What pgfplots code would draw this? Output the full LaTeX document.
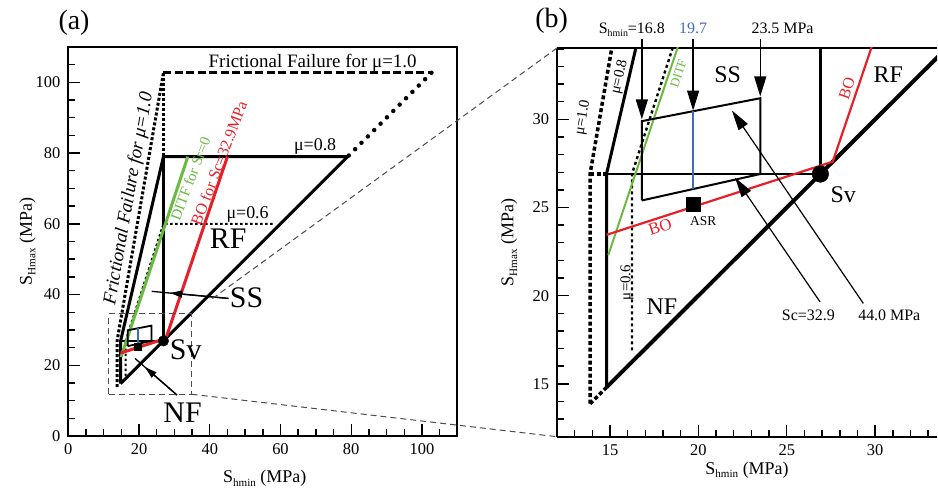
\documentclass[border=0pt]{standalone}
\usepackage{fontspec}
\setmainfont{Liberation Serif}
\usepackage{pgfplots}
\pgfplotsset{compat=1.18}
\usetikzlibrary{arrows.meta,calc}

\definecolor{bored}{RGB}{230,32,40}
\definecolor{ditfgreen}{RGB}{106,186,66}
\definecolor{asrblue}{RGB}{62,110,182}

\newcommand{\sub}[1]{\raisebox{-0.45ex}{\scalebox{0.62}{#1}}}
\newcommand{\fs}[1]{\fontsize{#1}{#1}\selectfont}

\tikzset{
  mu10sq/.style={line width=3bp, dash pattern=on 3bp off 2bp},
  mu10dash/.style={line width=3bp, dash pattern=on 8bp off 3.5bp},
  mu10dot/.style={line width=4.5bp, dash pattern=on 0bp off 9bp, line cap=round},
  mu06/.style={line width=2bp, dash pattern=on 2.5bp off 2.5bp},
  mu10b/.style={line width=3.5bp, dash pattern=on 4bp off 2.5bp},
  mu06b/.style={line width=2.4bp, dash pattern=on 3bp off 3bp},
  conn/.style={line width=1bp, black!70, dash pattern=on 6bp off 4bp},
}

\pgfplotsset{
  common/.style={
    scale only axis,
    anchor=south west,
    axis line style={line width=1.8bp},
    tick style={line width=1.4bp, black},
    major tick length=12bp,
    minor tick length=7bp,
    tick align=inside,
    tick pos=left,
    clip mode=individual,
    /pgf/number format/assume math mode=true,
    tick label style={font=\fs{16.5}},
    xticklabel style={yshift=-4bp},
    yticklabel style={xshift=-4.5bp},
    label style={font=\fs{18}},
  },
}

\begin{document}
\begin{tikzpicture}[x=1bp,y=1bp]
\path (0,0) rectangle (938,491);

% ---------------- panel (a) ----------------
\begin{axis}[common,
  at={(68.3bp,55bp)}, width=389bp, height=389bp,
  xmin=0, xmax=110, ymin=0, ymax=110,
  xtick={0,20,...,100}, ytick={0,20,...,100},
  minor xtick={0,5,...,110}, minor ytick={0,5,...,110},
  xlabel={S\sub{hmin} (MPa)}, ylabel={S\sub{Hmax} (MPa)},
  xlabel style={at={(axis description cs:0.505,-0.108)}, anchor=center},
  ylabel style={at={(axis description cs:-0.105,0.5)}, anchor=center},
]
% mu = 1.0
\addplot[mu10sq] coordinates {(13.8,13.8) (13.8,26.9) (26.9,102.7)};
\addplot[mu10sq] coordinates {(26.9,26.9) (26.9,102.7)};
\addplot[mu10dash] coordinates {(26.9,102.7) (102.7,102.7)};
\addplot[mu10dot] coordinates {(102.7,102.7) (79,79)};
% mu = 0.6
\addplot[mu06] coordinates {(16.2,16.9) (16.2,26.9) (26.9,60) (58,60)};
% mu = 0.8
\addplot[line width=3bp] coordinates {(14.8,14.8) (14.8,26.9) (26.9,79) (79,79) (14.8,14.8)};
\addplot[line width=3bp] coordinates {(26.9,26.9) (26.9,79)};
\addplot[line width=2.5bp] coordinates {(14.8,26.9) (26.9,26.9)};
% DITF and BO
\addplot[ditfgreen, line width=3bp] coordinates {(14.9,22.3) (33.8,79)};
\addplot[bored, line width=3bp] coordinates {(14.8,23.45) (27.6,27.6) (45,79)};
% SS region
\addplot[black, line width=1.8bp] coordinates {(16.8,25.4) (16.8,29.9) (23.5,31.2) (23.5,26.9) (16.8,25.4)};
\addplot[asrblue, line width=1.5bp] coordinates {(19.7,26.05) (19.7,30.46)};
\addplot[only marks, mark=square*, mark size=3.3bp, black] coordinates {(19.7,25.2)};
\addplot[only marks, mark=*, mark size=5.3bp, black] coordinates {(26.9,26.9)};
% zoom box
\addplot[conn] coordinates {(11.5,11.8) (34.9,11.8) (34.9,34.6) (11.5,34.6) (11.5,11.8)};

\coordinate (aTR) at (axis cs:34.9,34.6);
\coordinate (aBR) at (axis cs:34.9,11.8);

\node[font=\fs{19}, anchor=base] at (axis cs:69.1,104.2) {Frictional Failure for μ=1.0};
\node[font=\fs{19}\itshape, rotate=80] at (axis cs:17.2,67.2) {Frictional Failure for μ=1.0};
\node[font=\fs{18}, anchor=base] at (axis cs:69.8,80.7) {μ=0.8};
\node[font=\fs{18}, anchor=base] at (axis cs:50.7,61.4) {μ=0.6};
\node[font=\fs{15}, text=ditfgreen, rotate=69, inner sep=0.5pt] at (axis cs:34.5,72.8) {DITF for Sr=0};
\node[font=\fs{16}, text=bored, rotate=69, inner sep=0.5pt] at (axis cs:42.6,77.2) {BO for Sc=32.9MPa};
\node[font=\fs{30}, anchor=base] at (axis cs:45.2,53.0) {RF};
\node[font=\fs{30}, anchor=base] at (axis cs:50.4,36.3) {SS};
\node[font=\fs{30}, anchor=base] at (axis cs:33.2,21.6) {Sv};
\node[font=\fs{30}, anchor=base] at (axis cs:32.3,3.75) {NF};
\draw[line width=1.3bp] (axis cs:45.3,38.9) -- (axis cs:23.6,40.9);
\draw[line width=1.3bp, -{Triangle[length=12bp,width=7bp]}] (axis cs:45.3,38.9) -- (axis cs:28.8,40.45);
\draw[line width=1.3bp] (axis cs:30.7,11.6) -- (axis cs:18.9,21.9);
\draw[line width=1.3bp, -{Triangle[length=12bp,width=7bp]}] (axis cs:30.7,11.6) -- (axis cs:21.7,19.45);
\end{axis}

% ---------------- panel (b) ----------------
\begin{axis}[common,
  at={(557bp,54.3bp)}, width=380bp, height=388.7bp,
  xmin=12, xmax=33.5, ymin=12, ymax=34.05,
  axis x line*=box, axis y line*=left,
  x axis line style={-}, y axis line style={-},
  xtick={15,20,25,30}, ytick={15,20,25,30},
  minor xtick={12,...,33}, minor ytick={12,...,34},
  xlabel={S\sub{hmin} (MPa)}, ylabel={S\sub{Hmax} (MPa)},
  xlabel style={at={(axis description cs:0.5,-0.085)}, anchor=center},
  ylabel style={at={(axis description cs:-0.126,0.5)}, anchor=center},
]
% mu = 1.0
\addplot[mu10b] coordinates {(13.87,13.87) (13.87,26.9) (26.9,102.7)};
\addplot[mu10b] coordinates {(13.87,26.9) (14.8,26.9)};
\addplot[mu10b] coordinates {(13.87,13.87) (14.8,14.8)};
% mu = 0.6
\addplot[mu06b] coordinates {(16.24,16.9) (16.24,26.9) (26.9,60)};
% mu = 0.8
\addplot[line width=3bp] coordinates {(26.9,79) (14.8,26.9) (14.8,14.8)};
\addplot[line width=4bp] coordinates {(14.8,14.8) (79,79)};
\addplot[line width=2.6bp] coordinates {(14.8,26.9) (26.9,26.9)};
\addplot[line width=2.6bp] coordinates {(26.9,26.9) (26.9,79)};
% DITF and BO
\addplot[ditfgreen, line width=2bp] coordinates {(14.9,22.3) (33.8,79)};
\addplot[bored, line width=2.2bp] coordinates {(14.8,23.45) (27.6,27.6) (45,79)};
% SS region
\addplot[black, line width=2bp] coordinates {(16.8,25.4) (16.8,29.9) (23.5,31.2) (23.5,26.9) (16.8,25.4)};
\addplot[asrblue, line width=2bp] coordinates {(19.7,26.05) (19.7,30.46)};
\addplot[only marks, mark=square*, mark size=7.2bp, black] coordinates {(19.7,25.2)};
\addplot[only marks, mark=*, mark size=8.3bp, black] coordinates {(26.9,26.9)};

\coordinate (bTL) at (axis cs:12,34.05);
\coordinate (bBL) at (axis cs:12,12);

\node[font=\fs{16}, anchor=base east] at (axis cs:18.3,34.9) {S\sub{hmin}=16.8};
\node[font=\fs{16}, text=asrblue, anchor=base] at (axis cs:19.7,34.9) {19.7};
\node[font=\fs{16}, anchor=base] at (axis cs:24.76,34.9) {23.5 MPa};
\draw[line width=1.3bp, -{Triangle[length=20bp,width=12bp]}] (axis cs:16.8,34.55) -- (axis cs:16.8,30.0);
\draw[line width=1.3bp, -{Triangle[length=20bp,width=12bp]}] (axis cs:19.7,34.55) -- (axis cs:19.7,30.5);
\draw[line width=1.3bp, -{Triangle[length=20bp,width=12bp]}] (axis cs:23.5,34.55) -- (axis cs:23.5,31.3);
\node[font=\fs{24}, anchor=base] at (axis cs:21.65,32.07) {SS};
\node[font=\fs{24}, anchor=base] at (axis cs:30.74,32.07) {RF};
\node[font=\fs{24}, anchor=base] at (axis cs:28.19,25.28) {Sv};
\node[font=\fs{24}, anchor=base] at (axis cs:17.93,18.92) {NF};
\node[font=\fs{13.5}, anchor=base] at (axis cs:20.27,23.96) {ASR};
\node[font=\fs{17}, text=bored, rotate=18] at (axis cs:17.83,23.9) {BO};
\node[font=\fs{16}, text=bored, rotate=71.5] at (axis cs:28.4,31.74) {BO};
\node[font=\fs{13}, text=ditfgreen, rotate=71.5] at (axis cs:18.87,32.6) {DITF};
\node[font=\fs{15}, rotate=77] at (axis cs:15.55,32.4) {μ=0.8};
\node[font=\fs{15}, rotate=80] at (axis cs:13.47,30.1) {μ=1.0};
\node[font=\fs{15}, rotate=90] at (axis cs:15.96,20.75) {μ=0.6};
\node[font=\fs{16}, anchor=base] at (axis cs:26.22,18.58) {Sc=32.9};
\node[font=\fs{16}, anchor=base] at (axis cs:30.8,18.58) {44.0 MPa};
\draw[line width=1.2bp, -{Triangle[length=20bp,width=11bp]}] (axis cs:26.88,19.65) -- (axis cs:22.07,26.7);
\draw[line width=1.2bp, -{Triangle[length=20bp,width=11bp]}] (axis cs:29.33,19.56) -- (axis cs:21.9,30.5);
\end{axis}

\draw[conn] (bTL) -- ($(bTL)!0.945!(aTR)$);
\draw[conn] (aBR) -- (bBL);

\node[font=\fs{28}] at (74,468.5) {(a)};
\node[font=\fs{28}] at (551.7,470.2) {(b)};
\end{tikzpicture}
\end{document}
